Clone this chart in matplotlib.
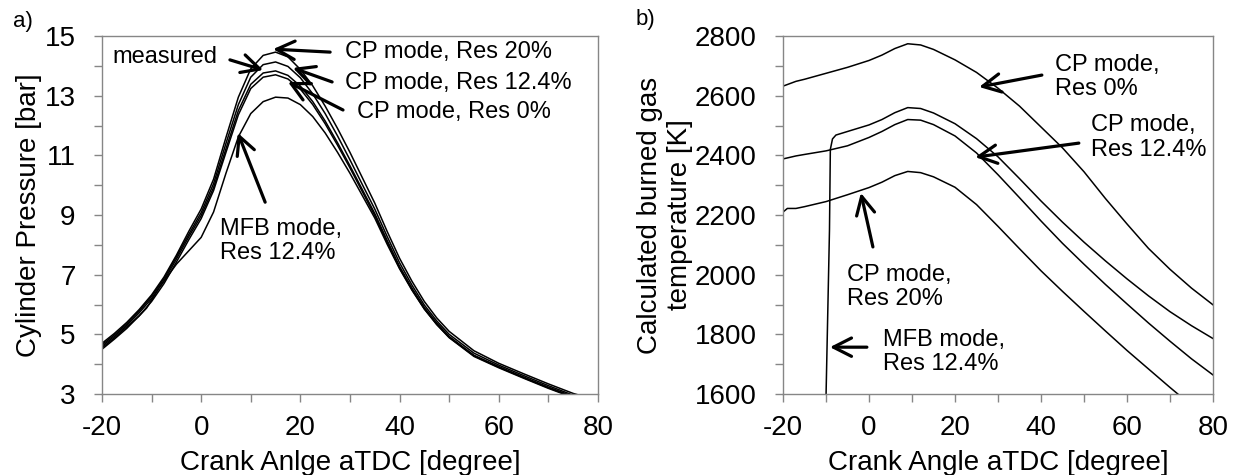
import numpy as np
import matplotlib
matplotlib.use("Agg")
from matplotlib import pyplot as plt

plt.rcParams['font.family'] = ['Liberation Sans', 'DejaVu Sans']
plt.rcParams['axes.unicode_minus'] = False

# =============================================================================
# data: a) cylinder pressure [bar]
# =============================================================================
ca_p = [-20, -17.5, -15, -12.5, -10, -7.5, -5, -2.5, 0, 2.5, 5, 7.5, 10, 12.5,
        15, 17.5, 20, 22.5, 25, 27.5, 30, 32.5, 35, 37.5, 40, 42.5, 45, 47.5,
        50, 55, 60, 65, 70, 75, 80]

p_cp20 = [4.70, 5.03, 5.40, 5.83, 6.32, 6.92, 7.65, 8.45, 9.20, 10.20, 11.60,
          12.95, 13.90, 14.35, 14.46, 14.30, 13.88, 13.33, 12.65, 11.90, 11.10,
          10.25, 9.40, 8.45, 7.55, 6.78, 6.10, 5.55, 5.10, 4.45, 4.03, 3.68,
          3.34, 3.02, 2.78]
p_cp124 = [4.65, 4.98, 5.35, 5.78, 6.27, 6.87, 7.60, 8.35, 9.08, 10.05, 11.40,
           12.70, 13.62, 14.04, 14.13, 13.98, 13.60, 13.06, 12.40, 11.65, 10.85,
           10.02, 9.20, 8.28, 7.40, 6.65, 5.98, 5.45, 5.00, 4.37, 3.97, 3.62,
           3.28, 2.96, 2.72]
p_meas = [4.60, 4.93, 5.30, 5.72, 6.20, 6.80, 7.52, 8.27, 8.98, 9.92, 11.22,
          12.50, 13.38, 13.76, 13.83, 13.68, 13.32, 12.80, 12.15, 11.42, 10.65,
          9.85, 9.05, 8.15, 7.28, 6.55, 5.90, 5.38, 4.93, 4.30, 3.92, 3.57,
          3.23, 2.92, 2.68]
p_cp0 = [4.50, 4.84, 5.20, 5.62, 6.10, 6.70, 7.42, 8.17, 8.88, 9.82, 11.10,
         12.36, 13.24, 13.62, 13.70, 13.56, 13.22, 12.70, 12.06, 11.34, 10.58,
         9.78, 8.98, 8.08, 7.22, 6.50, 5.85, 5.33, 4.89, 4.26, 3.88, 3.53,
         3.19, 2.88, 2.65]

ca_mfb_p = [-20, -17.5, -15, -12.5, -11, -8.5, -7.5, -5, -2.5, 0, 2.5, 5, 7.5,
            10, 12.5, 15, 17.5, 20, 22.5, 25, 27.5, 30, 32.5, 35, 37.5, 40,
            42.5, 45, 47.5, 50, 55, 60, 65, 70, 75, 80]
p_mfb = [4.55, 4.88, 5.25, 5.62, 5.88, 6.55, 6.78, 7.35, 7.80, 8.25, 9.10,
         10.40, 11.62, 12.40, 12.80, 12.95, 12.92, 12.70, 12.30, 11.75, 11.10,
         10.40, 9.65, 8.90, 8.02, 7.20, 6.48, 5.85, 5.33, 4.90, 4.28, 3.90,
         3.55, 3.21, 2.90, 2.67]

# =============================================================================
# data: b) burned gas temperature [K]
# =============================================================================
ca_t = [-20, -17, -15, -10, -5, 0, 3, 6, 9, 12, 15, 20, 25, 30, 35, 40, 45, 50,
        55, 60, 65, 70, 75, 80]
t_cp0 = [2632, 2648, 2655, 2675, 2695, 2718, 2736, 2758, 2774, 2770, 2755, 2720,
         2678, 2625, 2565, 2495, 2425, 2345, 2255, 2170, 2088, 2018, 1955, 1899]
t_cp124 = [2388, 2398, 2403, 2415, 2432, 2460, 2480, 2503, 2520, 2518, 2503,
           2465, 2408, 2335, 2258, 2180, 2105, 2035, 1967, 1902, 1838, 1777,
           1718, 1664]

ca_t20 = [-20, -19, -17, -15, -10, -5, 0, 3, 6, 9, 12, 15, 20, 25, 30, 35, 40,
          45, 50, 55, 60, 65, 70, 72.5]
t_cp20 = [2210, 2222, 2222, 2228, 2245, 2268, 2292, 2310, 2332, 2346, 2342, 2328,
          2293, 2235, 2162, 2087, 2013, 1944, 1877, 1811, 1746, 1684, 1622, 1592]

ca_tmfb = [-10.05, -9.2, -9.0, -8.5, -7.7, -5, 0, 3, 6, 9, 12, 15, 20, 25, 30,
           35, 40, 45, 50, 55, 60, 65, 70, 75, 80]
t_mfb = [1560, 2150, 2420, 2455, 2468, 2480, 2502, 2520, 2543, 2560, 2557, 2542,
         2506, 2456, 2395, 2322, 2247, 2176, 2109, 2046, 1986, 1929, 1876, 1829,
         1786]

GRAY = '#868686'
TXT = 17


def style_axes(ax, ymin, ymax, ymajor, yminor):
    ax.set_xlim(-20, 80)
    ax.set_ylim(ymin, ymax)
    ax.set_xticks(np.arange(-20, 81, 20))
    ax.set_xticks(np.arange(-10, 81, 20), minor=True)
    ax.set_yticks(np.arange(ymin, ymax + 1e-9, ymajor))
    ax.set_yticks(np.arange(ymin + yminor, ymax, ymajor), minor=True)
    for s in ax.spines.values():
        s.set_color(GRAY)
        s.set_linewidth(1.0)
    ax.tick_params(which='both', direction='out', length=6, width=1.0,
                   color=GRAY, labelsize=20)
    ax.tick_params(axis='y', which='both', pad=13)
    ax.tick_params(axis='x', which='both', pad=9)


def arrow(ax, tail, tip):
    ax.annotate('', xy=tip, xytext=tail,
                arrowprops=dict(arrowstyle='->,head_length=0.65,head_width=0.33',
                                lw=2.3, color='black', mutation_scale=20,
                                shrinkA=0, shrinkB=0))


fig = plt.figure(figsize=(12.39, 4.75), dpi=100)
ax1 = fig.add_axes([0.0823, 0.1705, 0.4003, 0.7537])
ax2 = fig.add_axes([0.632, 0.1705, 0.347, 0.7537])

# ---- a) ----
lw = 1.1
for y in (p_cp20, p_cp124, p_meas, p_cp0):
    ax1.plot(ca_p, y, color='black', lw=lw)
ax1.plot(ca_mfb_p, p_mfb, color='black', lw=lw)
style_axes(ax1, 3, 15, 2, 1)
ax1.set_xlabel('Crank Anlge aTDC [degree]', fontsize=20)
ax1.set_ylabel('Cylinder Pressure [bar]', fontsize=20)
ax1.xaxis.set_label_coords(0.5, -0.155)
ax1.yaxis.set_label_coords(-0.12, 0.5)

ax1.text(-17.8, 14.30, 'measured', fontsize=TXT, va='center', ha='left')
arrow(ax1, (5.8, 14.2), (12.5, 13.86))
ax1.text(29.0, 14.46, 'CP mode, Res 20%', fontsize=TXT, va='center', ha='left')
arrow(ax1, (26.0, 14.46), (14.5, 14.56))
ax1.text(29.0, 13.42, 'CP mode, Res 12.4%', fontsize=TXT, va='center', ha='left')
arrow(ax1, (26.4, 13.46), (18.5, 13.93))
ax1.text(31.4, 12.45, 'CP mode, Res 0%', fontsize=TXT, va='center', ha='left')
arrow(ax1, (28.6, 12.52), (17.5, 13.46))
ax1.text(3.8, 8.13, 'MFB mode,\nRes 12.4%', fontsize=TXT, va='center', ha='left',
         linespacing=1.15)
arrow(ax1, (12.9, 9.43), (7.4, 11.75))

# ---- b) ----
ax2.plot(ca_t, t_cp0, color='black', lw=lw)
ax2.plot(ca_t, t_cp124, color='black', lw=lw)
ax2.plot(ca_t20, t_cp20, color='black', lw=lw)
ax2.plot(ca_tmfb, t_mfb, color='black', lw=lw)
style_axes(ax2, 1600, 2800, 200, 100)
ax2.set_xlabel('Crank Angle aTDC [degree]', fontsize=20)
ax2.set_ylabel('Calculated burned gas\ntemperature [K]', fontsize=20,
               linespacing=1.2)
ax2.xaxis.set_label_coords(0.5, -0.155)
ax2.yaxis.set_label_coords(-0.21, 0.5)

ax2.text(43.3, 2663, 'CP mode,\nRes 0%', fontsize=TXT, va='center', ha='left',
         linespacing=1.15)
arrow(ax2, (40.2, 2669), (25.6, 2629))
ax2.text(51.6, 2460, 'CP mode,\nRes 12.4%', fontsize=TXT, va='center', ha='left',
         linespacing=1.15)
arrow(ax2, (48.8, 2441), (24.7, 2394))
ax2.text(-5.1, 1959, 'CP mode,\nRes 20%', fontsize=TXT, va='center', ha='left',
         linespacing=1.15)
arrow(ax2, (0.9, 2093), (-1.9, 2274))
ax2.text(3.3, 1741, 'MFB mode,\nRes 12.4%', fontsize=TXT, va='center', ha='left',
         linespacing=1.15)
arrow(ax2, (-0.5, 1757), (-9.1, 1757))

fig.text(23 / 1239, 1 - 22 / 475, 'a)', fontsize=16, ha='center', va='center')
fig.text(645 / 1239, 1 - 20 / 475, 'b)', fontsize=16, ha='center', va='center')

fig.savefig('out.png', dpi=100)
